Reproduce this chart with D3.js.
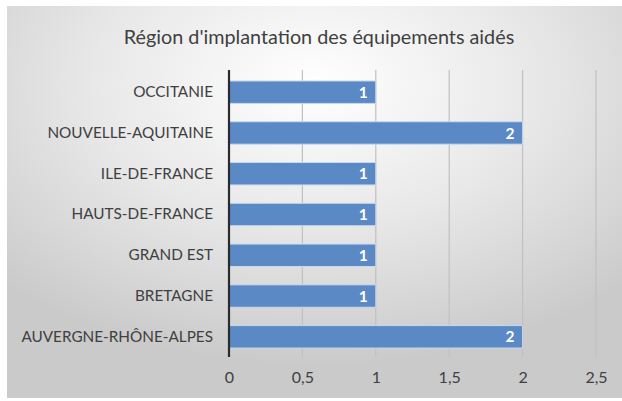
<!DOCTYPE html>
<html><head><meta charset="utf-8">
<script src="https://cdn.jsdelivr.net/npm/d3@7"></script>
<style>
html,body{margin:0;padding:0;background:#fff;}
svg{display:block;}
</style></head>
<body>
<svg id="chart" width="622" height="401"></svg>
<script>
const categories = ["OCCITANIE","NOUVELLE-AQUITAINE","ILE-DE-FRANCE","HAUTS-DE-FRANCE","GRAND EST","BRETAGNE","AUVERGNE-RHÔNE-ALPES"];
const values = [1,2,1,1,1,1,2];
const ticks = [0,0.5,1,1.5,2,2.5];
const title = "Région d'implantation des équipements aidés";

const svg = d3.select("#chart");
const font = "Lato, 'Open Sans', sans-serif";

// background panel with soft radial shading
const defs = svg.append("defs");
const grad = defs.append("radialGradient").attr("id","bg")
  .attr("cx","50%").attr("cy","20%").attr("r","72%");
grad.append("stop").attr("offset","0%").attr("stop-color","#ffffff");
grad.append("stop").attr("offset","50%").attr("stop-color","#e8e8e8");
grad.append("stop").attr("offset","100%").attr("stop-color","#cacaca");
svg.append("rect").attr("x",7).attr("y",6).attr("width",615).attr("height",392)
  .attr("fill","url(#bg)");

const x = d3.scaleLinear().domain([0,2.5]).range([229,596]);
const y = d3.scaleBand().domain(categories).range([72,357]).paddingInner(0.45).paddingOuter(0.22);

// gridlines
svg.append("g").selectAll("line").data(ticks.slice(1)).join("line")
  .attr("x1",d=>x(d)).attr("x2",d=>x(d)).attr("y1",70).attr("y2",357)
  .attr("stroke","#c0c0c0").attr("stroke-width",1.2);

// bars
svg.append("g").selectAll("rect").data(categories).join("rect")
  .attr("x",x(0)).attr("y",d=>y(d))
  .attr("width",(d,i)=>x(values[i])-x(0)).attr("height",y.bandwidth())
  .attr("fill","#5a89c5").attr("stroke","#c9d8ee").attr("stroke-width",1);

// value labels
svg.append("g").selectAll("text").data(categories).join("text")
  .attr("x",(d,i)=>x(values[i])-8).attr("y",d=>y(d)+y.bandwidth()/2)
  .attr("dy","0.36em").attr("text-anchor","end")
  .attr("font-family",font).attr("font-weight","bold").attr("font-size",15.5)
  .attr("fill","#ffffff").text((d,i)=>values[i]);

// vertical axis line
svg.append("line").attr("x1",x(0)).attr("x2",x(0)).attr("y1",70).attr("y2",357)
  .attr("stroke","#2b2b2b").attr("stroke-width",2.2);

// category labels
const yAxis = svg.append("g").attr("transform",`translate(${x(0)},0)`)
  .call(d3.axisLeft(y).tickSize(0).tickPadding(16));
yAxis.select(".domain").remove();
yAxis.selectAll("text").attr("font-family",font).attr("font-size",15.3).attr("fill","#404040");

// x tick labels
const xAxis = svg.append("g").attr("transform","translate(0,372)")
  .call(d3.axisBottom(x).tickValues(ticks).tickSize(0).tickPadding(0)
    .tickFormat(d=>String(d).replace(".",",")));
xAxis.select(".domain").remove();
xAxis.selectAll("text").attr("font-family",font).attr("font-size",16).attr("fill","#404040");

// title
svg.append("text").attr("x",319).attr("y",44).attr("text-anchor","middle")
  .attr("font-family",font).attr("font-size",19.8).attr("fill","#404040").text(title);
</script>
</body></html>
